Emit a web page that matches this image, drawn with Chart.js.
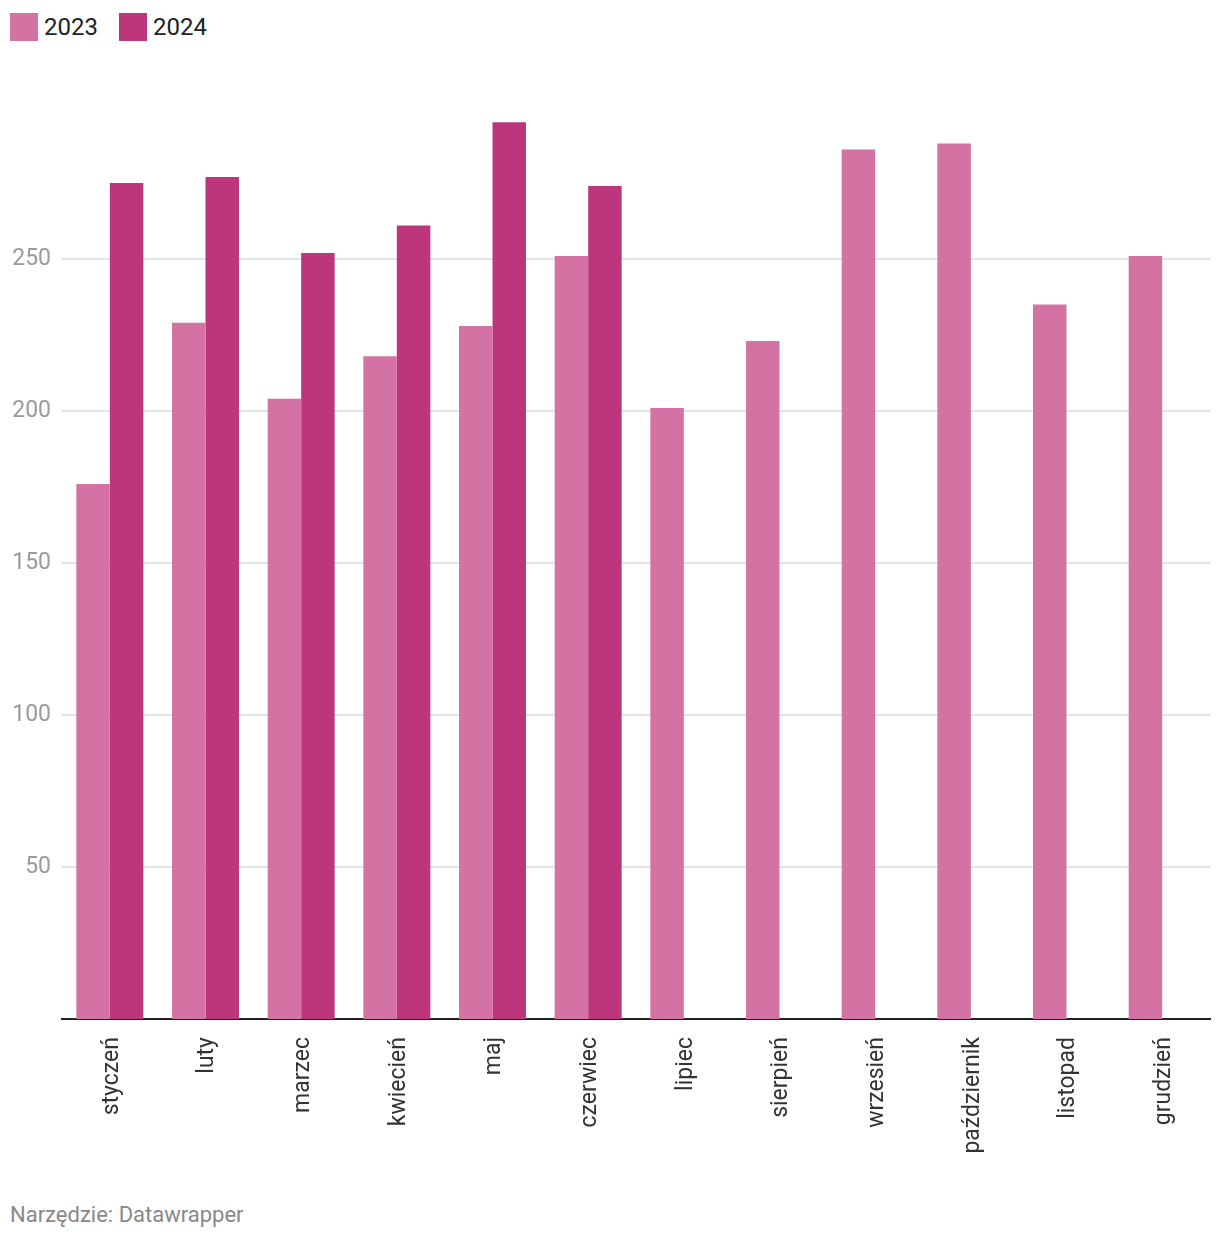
<!DOCTYPE html>
<html lang="pl">
<head>
<meta charset="utf-8">
<script src="https://cdn.jsdelivr.net/npm/chart.js@4.4.1/dist/chart.umd.min.js"></script>
<style>
  html, body { margin: 0; padding: 0; background: #fff; }
  body { width: 1220px; height: 1240px; position: relative; font-family: Roboto, sans-serif; }
  #legend { position: absolute; left: 10px; top: 13px; display: flex; align-items: center; }
  .item { display: flex; align-items: center; margin-right: 21px; font-size: 24px; color: #222; }
  .swatch { width: 28px; height: 28px; margin-right: 6px; }
  #wrap { position: absolute; left: 0; top: 0; width: 1220px; height: 1180px; }
  #footer { position: absolute; left: 10px; top: 1202px; font-size: 22px; color: #888; }
</style>
</head>
<body>
<div id="legend"></div>
<div id="wrap"><canvas id="chart"></canvas></div>
<div id="footer">Narzędzie: Datawrapper</div>

<script>
const months = ["styczeń", "luty", "marzec", "kwiecień", "maj", "czerwiec",
  "lipiec", "sierpień", "wrzesień", "październik", "listopad", "grudzień"];
const values2023 = [176, 229, 204, 218, 228, 251, 201, 223, 286, 288, 235, 251];
const values2024 = [275, 277, 252, 261, 295, 274, null, null, null, null, null, null];
const yTicks = [50, 100, 150, 200, 250];

const color2023 = "#d472a4";
const color2024 = "#bd367b";

// legend in html, like the original
const legend = document.getElementById("legend");
[["2023", color2023], ["2024", color2024]].forEach(([label, color]) => {
  const item = document.createElement("div");
  item.className = "item";
  item.innerHTML = `<span class="swatch" style="background:${color}"></span>${label}`;
  legend.appendChild(item);
});

const ctx = document.getElementById("chart").getContext("2d");
new Chart(ctx, {
  type: "bar",
  data: {
    labels: months,
    datasets: [
      { label: "2023", data: values2023, backgroundColor: color2023 },
      { label: "2024", data: values2024, backgroundColor: color2024 },
    ],
  },
  options: {
    responsive: true,
    maintainAspectRatio: false,
    animation: false,
    categoryPercentage: 0.7,
    barPercentage: 1.0,
    layout: { padding: { top: 107, right: 10, left: 0, bottom: 0 } },
    scales: {
      x: {
        grid: { display: false },
        border: { display: true, color: "#222", width: 2 },
        ticks: {
          color: "#333",
          font: { family: "Roboto", size: 23 },
          minRotation: 90,
          maxRotation: 90,
          padding: 10,
          labelOffset: 2,
          autoSkip: false,
        },
        afterFit: (scale) => { scale.height = 161; },
      },
      y: {
        min: 0,
        max: 300,
        border: { display: false },
        grid: { color: "#e3e3e3", lineWidth: 2, drawTicks: false },
        ticks: {
          color: "#9a9a9a",
          font: { family: "Roboto", size: 23 },
          padding: 11,
        },
        afterBuildTicks: (scale) => {
          scale.ticks = yTicks.map((v) => ({ value: v }));
        },
        afterFit: (scale) => { scale.width = 62; },
      },
    },
    plugins: {
      legend: { display: false },
      tooltip: { enabled: false },
    },
  },
});
</script>
</body>
</html>
